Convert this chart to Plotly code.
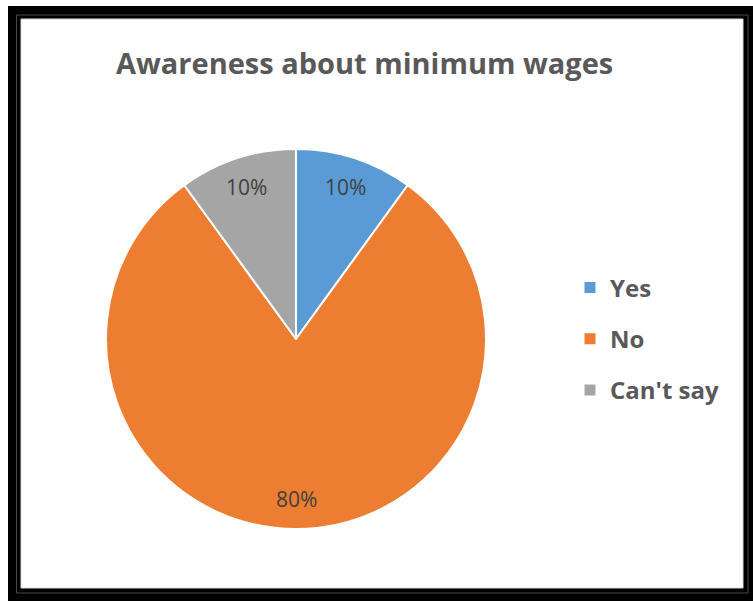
import math
import plotly.graph_objects as go

# Survey responses
categories = ["Yes", "No", "Can't say"]
shares = [10, 80, 10]
colors = ["#5B9BD5", "#ED7D31", "#A5A5A5"]
title_text = "Awareness about minimum wages"

W, H = 753, 601

def px_x(v):
    return v / W

def px_y(v):
    return 1 - v / H

fig = go.Figure()

# Pie, starting at 12 o'clock and running clockwise
cx, cy, r = 296, 339, 190
fig.add_trace(go.Pie(
    labels=categories,
    values=shares,
    sort=False,
    direction="clockwise",
    rotation=0,
    marker=dict(colors=colors, line=dict(color="white", width=2)),
    textinfo="none",
    hoverinfo="label+percent",
    showlegend=False,
    domain=dict(x=[px_x(cx - r), px_x(cx + r)], y=[px_y(cy + r), px_y(cy - r)]),
))

# Percentage labels placed along each slice's bisector
total = sum(shares)
annotations = []
start = 0.0
for v in shares:
    mid = (start + v / 2) / total * 2 * math.pi
    start += v
    lx = cx + 0.84 * r * math.sin(mid)
    ly = cy - 0.84 * r * math.cos(mid)
    annotations.append(dict(
        text=f"{round(v / total * 100)}%", x=px_x(lx), y=px_y(ly),
        xref="paper", yref="paper", showarrow=False,
        xanchor="center", yanchor="middle",
        font=dict(family="Open Sans", size=21, color="#404040"),
    ))

annotations.append(dict(
    text="<b>" + title_text + "</b>", x=px_x(364), y=px_y(62), xref="paper", yref="paper",
    showarrow=False, xanchor="center", yanchor="middle",
    font=dict(family="Open Sans", size=29, color="#595959"),
))

# Legend entries (square swatches), one group per category for spacing
for name, col in zip(categories, colors):
    fig.add_trace(go.Scatter(
        x=[None], y=[None], mode="markers", name=name, legendgroup=name,
        marker=dict(symbol="square", size=11, color=col),
        hoverinfo="skip",
    ))

shapes = [
    # outer frame
    dict(type="rect", xref="paper", yref="paper", x0=px_x(8), x1=1.0, y0=0.0, y1=px_y(6),
         fillcolor="black", line=dict(width=0), layer="below"),
    dict(type="rect", xref="paper", yref="paper", x0=px_x(16.5), x1=px_x(748), y0=px_y(593), y1=px_y(15),
         fillcolor="rgba(0,0,0,0)", line=dict(width=1, color="#4a4a4a"), layer="below"),
    # chart area
    dict(type="rect", xref="paper", yref="paper", x0=px_x(21), x1=px_x(743), y0=px_y(588), y1=px_y(19),
         fillcolor="white", line=dict(width=1, color="#D9D9D9"), layer="below"),
]

fig.update_layout(
    width=W, height=H,
    margin=dict(l=0, r=0, t=0, b=0),
    paper_bgcolor="white",
    plot_bgcolor="rgba(0,0,0,0)",
    shapes=shapes,
    xaxis=dict(visible=False, domain=[0.98, 0.99]),
    yaxis=dict(visible=False, domain=[0.98, 0.99]),
    annotations=annotations,
    legend=dict(
        x=px_x(570), y=px_y(339), xanchor="left", yanchor="middle",
        traceorder="grouped", tracegroupgap=17,
        font=dict(family="Open Sans", size=24, color="#595959", weight="bold"),
        bgcolor="rgba(0,0,0,0)",
    ),
    showlegend=True,
)

fig.write_html("out.html")
